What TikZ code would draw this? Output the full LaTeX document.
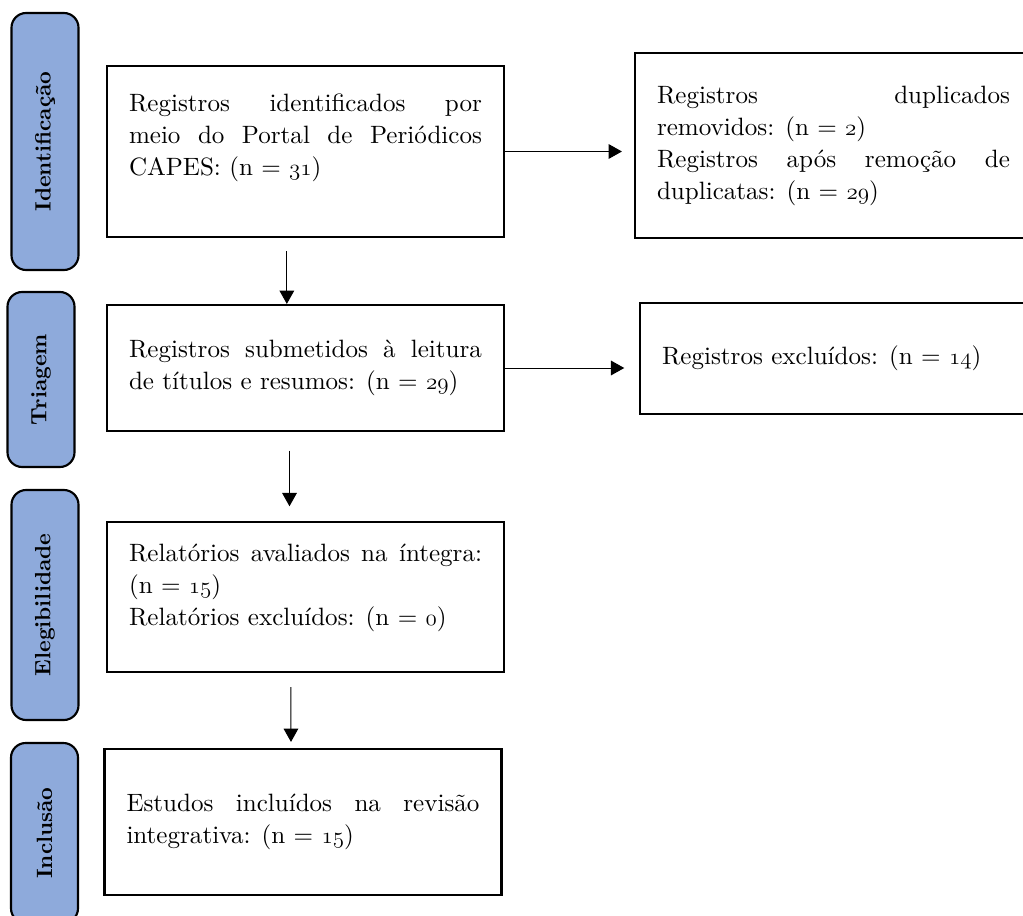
\documentclass[tikz,border=0pt]{standalone}
\usepackage{fontspec}
\setmainfont{lmroman10-regular.otf}[BoldFont=lmroman10-bold.otf]
\usepackage{tikz}
\usetikzlibrary{arrows.meta}
\definecolor{phaseblue}{HTML}{8EAADB}
\newcommand{\onum}[1]{{\usefont{OML}{cmm}{m}{it}#1}}

\begin{document}
\begin{tikzpicture}[x=0.75pt,y=-0.75pt,>={Triangle[length=10pt,width=11pt]},
 box/.style={draw,line width=1.6pt,minimum width=297.75pt,text width=264.75pt,
  inner xsep=16.5pt,align=justify,font=\fontsize{18.8}{24}\selectfont},
 phase/.style={draw,line width=1.6pt,rounded corners=11pt,fill=phaseblue,rotate=90,
  minimum height=50.25pt,font=\fontsize{16.6}{20}\selectfont\bfseries}]

 \path[use as bounding box,clip] (0,0) rectangle (1023,916);

 % phases
 \node[phase,minimum width=192.75pt] (p_id) at (45,141.5) {Identificação};
 \node[phase,minimum width=131.25pt] (p_tri) at (41,379.5) {Triagem};
 \node[phase,minimum width=172.5pt] (p_ele) at (45,605) {Elegibilidade};
 \node[phase,minimum width=135pt] (p_inc) at (44.5,833) {Inclusão};

 % boxes
 \node[box,minimum height=128.25pt,text depth=73pt] (ident) at (305.5,151.5)
  {\leftskip=28.5pt Registros identificados por\linebreak meio do Portal de Periódicos\linebreak CAPES: (n = \onum{31})};
 \node[box,minimum height=138.75pt] (dup) at (833.5,145.5)
  {\leftskip=28.5pt Registros duplicados\linebreak removidos: (n = \onum{2})\\
   Registros após remoção de\linebreak duplicatas: (n = \onum{29})};
 \node[box,minimum height=94.5pt] (triag) at (305.5,368)
  {Registros submetidos à leitura\linebreak de títulos e resumos: (n = \onum{29})};
 \node[box,minimum height=83.25pt] (excl) at (838.5,358.5)
  {Registros excluídos: (n = \onum{14})};
 \node[box,minimum height=112.5pt,text depth=67pt] (eleg) at (305.5,597)
  {Relatórios avaliados na íntegra:\linebreak (n = \onum{15})\\ Relatórios excluídos: (n = \onum{0})};
 \node[box,minimum height=109.5pt] (incl) at (303,822)
  {Estudos incluídos na revisão\linebreak integrativa: (n = \onum{15})};

 \path[->,line width=0.75pt]
 (ident.east) edge[shorten >=9pt] (ident.east -| dup.west)
 (triag.east) edge[shorten >=11pt] (triag.east -| excl.west)
 ([xshift=-14pt]ident.south) edge[shorten <=10pt] ([xshift=-14pt]triag.north)
 ([xshift=-12pt]triag.south) edge[shorten <=14pt,shorten >=11pt] ([xshift=-12pt]eleg.north)
 ([xshift=-11pt]eleg.south) edge[shorten <=10.5pt,shorten >=4.5pt] ([xshift=-9pt]incl.north)
 ;
\end{tikzpicture}
\end{document}
